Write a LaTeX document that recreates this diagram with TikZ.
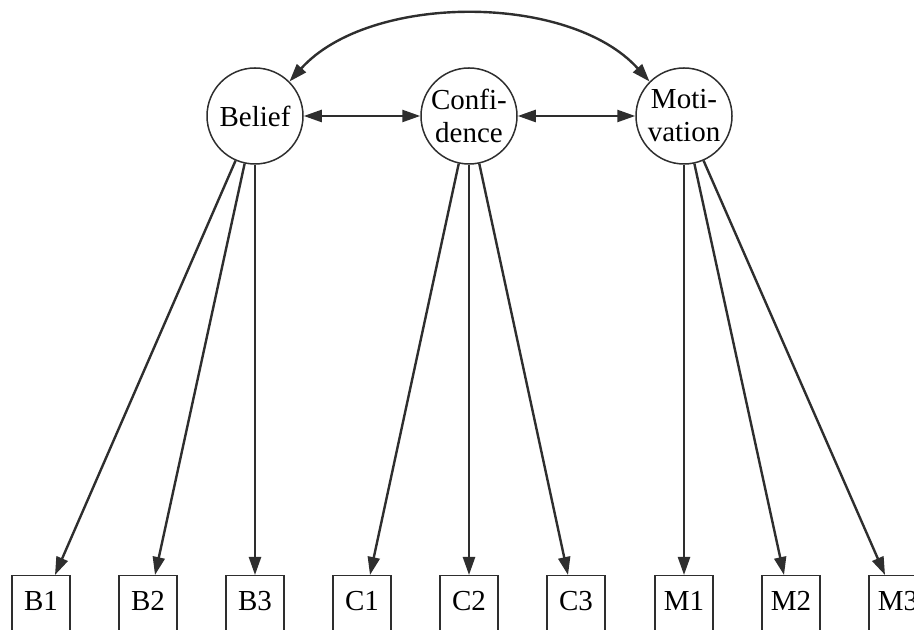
\documentclass[tikz,border=0pt]{standalone}
\usepackage{fontspec}
\setmainfont{Liberation Serif}
\usepackage{xcolor}
\usetikzlibrary{arrows.meta}
\definecolor{linegray}{HTML}{2E2E2E}

\begin{document}
\begin{tikzpicture}[
    x=0.5pt, y=0.5pt,
    font=\fontsize{14.5}{16.5}\selectfont,
    factor/.style={
        draw=linegray,
        circle,
        align=center,
        line width=0.75pt,
        minimum size=48pt,
        inner sep=0pt
    },
    item/.style={
        draw=linegray,
        rectangle,
        anchor=north,
        line width=0.75pt,
        minimum width=29pt,
        inner sep=0pt,
        text height=17.5pt,
        text depth=20pt
    },
    arrow/.style={-{Triangle[length=9pt,width=6pt]}, line width=1.2pt, draw=linegray},
    twoway/.style={{Triangle[length=9pt,width=6pt]}-{Triangle[length=9pt,width=6pt]}, line width=1.2pt, draw=linegray}
]

\clip (0,0) rectangle (914,630);

% Latent factors
\node[factor] (belief) at (255,514) {Belief};
\node[factor] (confidence) at (469,514) {Confi-\\dence};
\node[factor] (motivation) at (684,514) {Moti-\\vation};

% Indicator boxes
\node[item] (b1) at (41,55) {B1};
\node[item] (b2) at (148,55) {B2};
\node[item] (b3) at (255,55) {B3};
\node[item] (c1) at (362,55) {C1};
\node[item] (c2) at (469,55) {C2};
\node[item] (c3) at (576,55) {C3};
\node[item] (m1) at (684,55) {M1};
\node[item] (m2) at (791,55) {M2};
\node[item] (m3) at (898,55) {M3};

% Covariances between factors
\draw[twoway] (belief) -- (confidence);
\draw[twoway] (confidence) -- (motivation);
\draw[twoway] (belief.45) to[out=48, in=132, looseness=0.85] (motivation.135);

% Loadings: Belief
\draw[arrow] (belief) -- ([xshift=7pt]b1.north);
\draw[arrow] (belief) -- ([xshift=3.5pt]b2.north);
\draw[arrow] (belief) -- (b3.north);

% Loadings: Confidence
\draw[arrow] (confidence) -- ([xshift=4pt]c1.north);
\draw[arrow] (confidence) -- (c2.north);
\draw[arrow] (confidence) -- ([xshift=-4pt]c3.north);

% Loadings: Motivation
\draw[arrow] (motivation) -- (m1.north);
\draw[arrow] (motivation) -- ([xshift=-3.5pt]m2.north);
\draw[arrow] (motivation) -- ([xshift=-6.5pt]m3.north);

\end{tikzpicture}
\end{document}
